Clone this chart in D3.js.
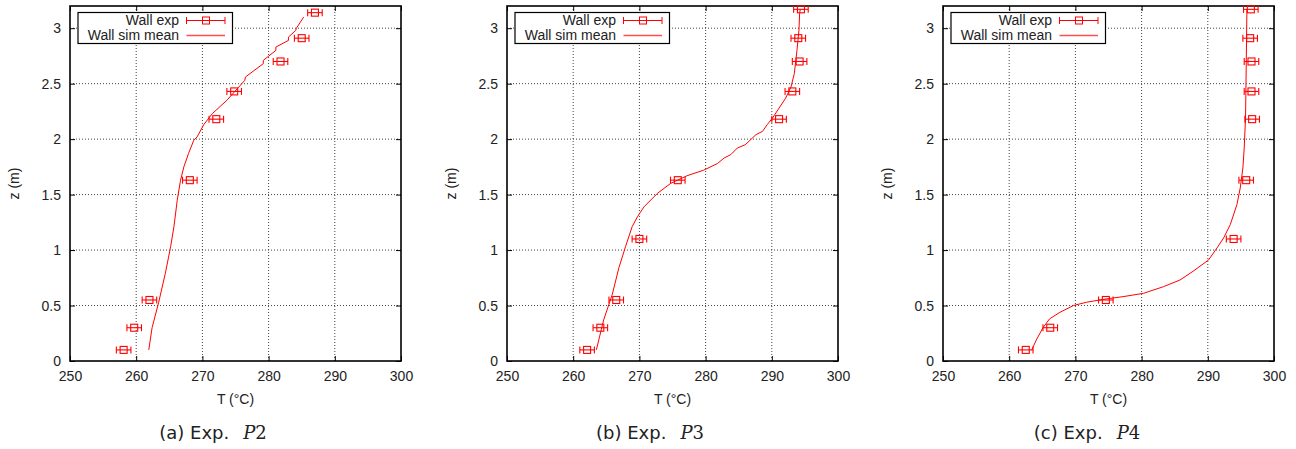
<!DOCTYPE html>
<html>
<head>
<meta charset="utf-8">
<script src="https://cdn.jsdelivr.net/npm/d3@7"></script>
<style>
  body { margin: 0; background: white; }
  svg { display: block; }
</style>
</head>
<body>
<svg id="chart" width="1296" height="449"></svg>
<script>
// tick values shared by the three panels
var xTicks = [250, 260, 270, 280, 290, 300];
var yTicks = [0, 0.5, 1, 1.5, 2, 2.5, 3];

// experimental heights (m), same thermocouples in every run
var zExpA = [0.1, 0.3, 0.55, 1.63, 2.18, 2.43, 2.70, 2.91, 3.14];
var zExpBC = [0.1, 0.3, 0.55, 1.10, 1.63, 2.18, 2.43, 2.70, 2.91, 3.17];

// experimental wall temperatures (°C)
var tExpA = [258.1, 259.7, 262.0, 268.1, 272.1, 274.8, 281.8, 285.0, 287.0];
var tExpB = [262.1, 264.1, 266.5, 270.0, 275.8, 291.1, 293.1, 294.2, 294.0, 294.4];
var tExpC = [262.5, 266.2, 274.6, 293.9, 295.8, 296.7, 296.6, 296.6, 296.4, 296.5];
var errExp = 1.1;

// simulated mean wall profiles
var tSimA = [261.9, 262.4, 263.4, 264.4, 265.2, 265.7, 266.2, 266.7, 267.2, 267.9, 268.7, 269.2,
  270.2, 271.5, 273.7, 276.4, 276.5, 279.2, 279.2, 281.1, 281.1, 283.0, 283.0, 284.1, 284.2, 285.3];
var zSimA = [0.10, 0.30, 0.53, 0.79, 1.03, 1.21, 1.45, 1.63, 1.75, 1.87, 1.99, 2.02,
  2.13, 2.23, 2.35, 2.53, 2.56, 2.68, 2.71, 2.80, 2.83, 2.89, 2.92, 2.98, 3.00, 3.10];

var tSimB = [263.5, 264.6, 265.9, 266.9, 267.9, 268.9, 269.7, 270.7, 272.7, 274.7, 277.2, 279.7,
  281.8, 282.8, 283.8, 284.8, 286.0, 287.6, 288.6, 289.3, 290.1, 291.1, 292.1, 292.9, 293.4,
  293.8, 294.1, 294.2, 294.3];
var zSimB = [0.10, 0.37, 0.60, 0.84, 1.03, 1.21, 1.30, 1.39, 1.51, 1.60, 1.67, 1.72,
  1.78, 1.83, 1.86, 1.92, 1.95, 2.04, 2.07, 2.13, 2.19, 2.28, 2.37, 2.47, 2.59,
  2.80, 2.98, 3.13, 3.17];

var tSimC = [263.4, 264.1, 265.1, 266.1, 267.7, 269.7, 271.7, 274.7, 277.2, 280.3, 283.3, 285.8,
  287.8, 290.1, 291.4, 292.4, 293.4, 294.4, 294.9, 295.3, 295.5, 295.7, 295.8, 295.9, 295.9];
var zSimC = [0.10, 0.19, 0.30, 0.38, 0.44, 0.50, 0.53, 0.56, 0.58, 0.61, 0.67, 0.73,
  0.81, 0.91, 1.02, 1.11, 1.23, 1.41, 1.56, 1.74, 1.92, 2.19, 2.64, 3.12, 3.17];

var panels = [
  {left: 70, letter: "a", num: "2", capX: 213, tExp: tExpA, zExp: zExpA, tSim: tSimA, zSim: zSimA},
  {left: 507, letter: "b", num: "3", capX: 650, tExp: tExpB, zExp: zExpBC, tSim: tSimB, zSim: zSimB},
  {left: 943, letter: "c", num: "4", capX: 1087, tExp: tExpC, zExp: zExpBC, tSim: tSimC, zSim: zSimC}
];

var plotW = 331, plotTop = 6, plotBottom = 361;
var red = "#ff0000";
var font = "'Liberation Sans', Arial, sans-serif";
var fs = "14px";

var svg = d3.select("#chart");

panels.forEach(function (p) {
  var x = d3.scaleLinear().domain([250, 300]).range([p.left, p.left + plotW]),
      y = d3.scaleLinear().domain([0, 3.2]).range([plotBottom, plotTop]);

  var g = svg.append("g");

  // dotted grid
  g.selectAll(".gx").data(xTicks.slice(1, -1)).enter().append("line")
      .attr("x1", d => x(d)).attr("x2", d => x(d))
      .attr("y1", plotTop).attr("y2", plotBottom)
      .attr("stroke", "#444").attr("stroke-width", 1).attr("stroke-dasharray", "1,2");
  g.selectAll(".gy").data(yTicks.slice(1)).enter().append("line")
      .attr("x1", p.left).attr("x2", p.left + plotW)
      .attr("y1", d => y(d)).attr("y2", d => y(d))
      .attr("stroke", "#444").attr("stroke-width", 1).attr("stroke-dasharray", "1,2");

  // axes, ticks pointing inwards
  g.append("g")
      .attr("transform", "translate(0," + plotBottom + ")")
      .call(d3.axisBottom(x).tickValues(xTicks).tickSize(-5).tickPadding(10).tickFormat(d3.format("d")));
  g.append("g")
      .attr("transform", "translate(" + p.left + ",0)")
      .call(d3.axisLeft(y).tickValues(yTicks).tickSize(-5).tickPadding(9).tickFormat(d => d));
  g.append("g")
      .attr("transform", "translate(0," + plotTop + ")")
      .call(d3.axisTop(x).tickValues(xTicks).tickSize(-5).tickFormat(""));
  g.append("g")
      .attr("transform", "translate(" + (p.left + plotW) + ",0)")
      .call(d3.axisRight(y).tickValues(yTicks).tickSize(-5).tickFormat(""));
  g.selectAll(".domain").remove();
  g.selectAll(".tick line").attr("stroke", "#000");
  g.selectAll(".tick text").attr("fill", "#222").style("font-family", font).style("font-size", fs);

  // frame
  g.append("rect")
      .attr("x", p.left).attr("y", plotTop)
      .attr("width", plotW).attr("height", plotBottom - plotTop)
      .attr("fill", "none").attr("stroke", "#000").attr("stroke-width", 1.6);

  // axis labels
  g.append("text")
      .attr("x", p.left + plotW / 2).attr("y", 404)
      .attr("text-anchor", "middle")
      .style("font-family", font).style("font-size", fs).attr("fill", "#222")
      .text("T (°C)");
  g.append("text")
      .attr("transform", "translate(" + (p.left - 51) + "," + ((plotTop + plotBottom) / 2) + ") rotate(-90)")
      .attr("text-anchor", "middle")
      .style("font-family", font).style("font-size", fs).attr("fill", "#222")
      .text("z (m)");

  // simulated profile
  var sim = p.tSim.map((t, i) => [t, p.zSim[i]]);
  g.append("path")
      .datum(sim)
      .attr("d", d3.line().x(d => x(d[0])).y(d => y(d[1])))
      .attr("fill", "none").attr("stroke", red).attr("stroke-width", 1);

  // experimental points with error bars
  var exp = p.tExp.map((t, i) => ({t: t, z: p.zExp[i]}));
  var pts = g.selectAll(".pt").data(exp).enter().append("g")
      .attr("stroke", red).attr("fill", "none").attr("stroke-width", 1.1);
  pts.append("line")
      .attr("x1", d => x(d.t - errExp)).attr("x2", d => x(d.t + errExp))
      .attr("y1", d => y(d.z)).attr("y2", d => y(d.z));
  pts.append("line")
      .attr("x1", d => x(d.t - errExp)).attr("x2", d => x(d.t - errExp))
      .attr("y1", d => y(d.z) - 3.5).attr("y2", d => y(d.z) + 3.5);
  pts.append("line")
      .attr("x1", d => x(d.t + errExp)).attr("x2", d => x(d.t + errExp))
      .attr("y1", d => y(d.z) - 3.5).attr("y2", d => y(d.z) + 3.5);
  pts.append("rect")
      .attr("x", d => x(d.t) - 3.5).attr("y", d => y(d.z) - 3.5)
      .attr("width", 7).attr("height", 7);

  // legend
  var lg = g.append("g").attr("transform", "translate(" + p.left + ",0)");
  lg.append("rect")
      .attr("x", 8).attr("y", 12.5).attr("width", 154.5).attr("height", 31)
      .attr("fill", "white").attr("stroke", "#000").attr("stroke-width", 1.2);
  lg.append("text").attr("x", 109).attr("y", 25.3).attr("text-anchor", "end")
      .style("font-family", font).style("font-size", fs).attr("fill", "#222").text("Wall exp");
  lg.append("text").attr("x", 109).attr("y", 40.2).attr("text-anchor", "end")
      .style("font-family", font).style("font-size", fs).attr("fill", "#222").text("Wall sim mean");
  lg.append("line").attr("x1", 116.5).attr("x2", 155).attr("y1", 20.5).attr("y2", 20.5)
      .attr("stroke", red);
  lg.append("line").attr("x1", 116.5).attr("x2", 116.5).attr("y1", 17).attr("y2", 24).attr("stroke", red);
  lg.append("line").attr("x1", 155).attr("x2", 155).attr("y1", 17).attr("y2", 24).attr("stroke", red);
  lg.append("rect").attr("x", 132.5).attr("y", 17).attr("width", 7).attr("height", 7)
      .attr("fill", "none").attr("stroke", red);
  lg.append("line").attr("x1", 116.5).attr("x2", 155).attr("y1", 35.5).attr("y2", 35.5)
      .attr("stroke", "#ff5050").attr("stroke-width", 1.5);

  // caption
  var cap = g.append("text")
      .attr("x", p.capX).attr("y", 439)
      .attr("text-anchor", "middle")
      .style("font-family", "'DejaVu Sans', sans-serif").style("font-size", "18px").attr("fill", "#222");
  cap.append("tspan").text("(" + p.letter + ") Exp.");
  cap.append("tspan").attr("dx", 14).style("font-family", "'DejaVu Serif', serif").style("font-style", "italic").text("P");
  cap.append("tspan").style("font-family", "'DejaVu Serif', serif").text(p.num);
});
</script>
</body>
</html>
